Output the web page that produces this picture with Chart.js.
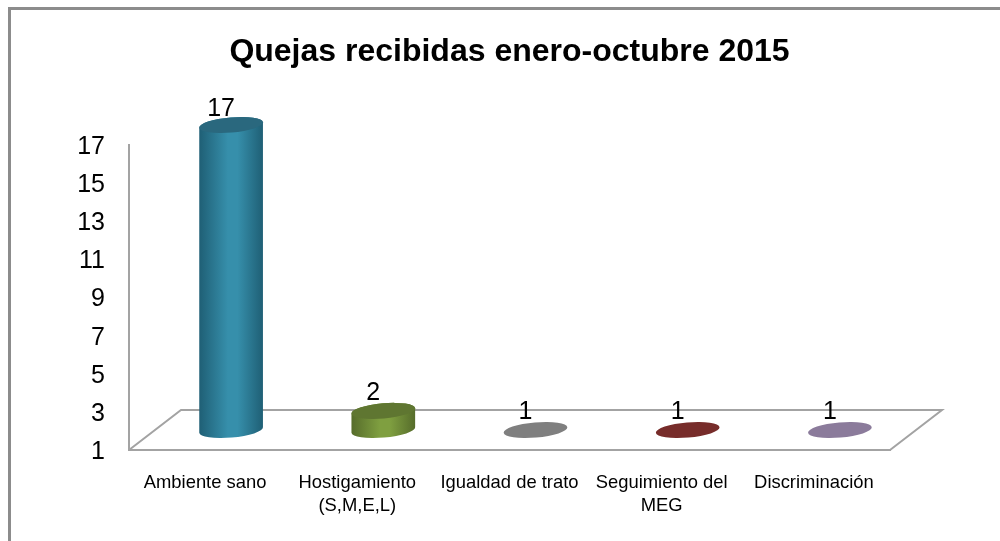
<!DOCTYPE html>
<html>
<head>
<meta charset="utf-8">
<style>
html,body{margin:0;padding:0;background:#fff;overflow:hidden}
#wrap{position:absolute;left:0;top:0;width:1000px;height:541px}
</style>
<script src="https://cdn.jsdelivr.net/npm/chart.js@4/dist/chart.umd.min.js"></script>
</head>
<body>
<div id="wrap"><canvas id="c" width="1000" height="541"></canvas></div>
<script>
const categories = ["Ambiente sano", ["Hostigamiento", "(S,M,E,L)"], "Igualdad de trato", ["Seguimiento del", "MEG"], "Discriminación"];
const values = [17, 2, 1, 1, 1];
const yTicks = [1, 3, 5, 7, 9, 11, 13, 15, 17];
const sideDark = ["#1f5f75", "#566c2b", "#6f6f6f", "#6b2422", "#77688a"];
const sideLight = ["#368fab", "#7f9f40", "#8a8a8a", "#7f2f2c", "#8f80a5"];
const topColors = ["#2a687e", "#5f7631", "#7f7f7f", "#772c2a", "#8b7b9b"];

const GRID = "#a3a3a3";
const DEPTH_X = 52, DEPTH_Y = 40;

const floor = {
  id: "floor",
  beforeDatasetsDraw(chart) {
    const {ctx, chartArea: a} = chart;
    ctx.save();
    ctx.strokeStyle = GRID;
    ctx.lineWidth = 2;
    ctx.beginPath();
    ctx.moveTo(a.left, a.bottom);
    ctx.lineTo(a.left + DEPTH_X, a.bottom - DEPTH_Y);
    ctx.lineTo(a.right + DEPTH_X, a.bottom - DEPTH_Y);
    ctx.lineTo(a.right, a.bottom);
    ctx.stroke();
    ctx.restore();
  }
};

const cylinders = {
  id: "cylinders",
  afterDatasetsDraw(chart) {
    const {ctx} = chart;
    const meta = chart.getDatasetMeta(0);
    const ox = DEPTH_X / 2, oy = -DEPTH_Y / 2;
    const rot = -5 * Math.PI / 180;
    ctx.save();
    meta.data.forEach((bar, i) => {
      const cx = bar.x + ox;
      const top = bar.y + oy;
      const base = bar.base + oy;
      const rx = bar.width / 2, ry = 7.6;
      if (base - top > 0.5) {
        const g = ctx.createLinearGradient(cx - rx, 0, cx + rx, 0);
        g.addColorStop(0, sideDark[i]);
        g.addColorStop(0.45, sideLight[i]);
        g.addColorStop(0.6, sideLight[i]);
        g.addColorStop(1, sideDark[i]);
        ctx.fillStyle = g;
        ctx.beginPath();
        ctx.ellipse(cx, base, rx, ry, rot, 0, Math.PI);
        ctx.ellipse(cx, top, rx, ry, rot, Math.PI, Math.PI * 2);
        ctx.closePath();
        ctx.fill();
      }
      ctx.fillStyle = topColors[i];
      ctx.beginPath();
      ctx.ellipse(cx, top, rx, ry, rot, 0, Math.PI * 2);
      ctx.fill();
      ctx.fillStyle = "#000";
      ctx.font = "25px 'Liberation Sans'";
      ctx.textAlign = "center";
      ctx.textBaseline = "middle";
      ctx.fillText(String(values[i]), cx - 10, top - (values[i] > 10 ? 16 : 18));
    });
    ctx.restore();
  }
};

const frame = {
  id: "frame",
  beforeDraw(chart) {
    const {ctx, width, height} = chart;
    ctx.save();
    ctx.strokeStyle = "#8c8c8c";
    ctx.lineWidth = 3;
    ctx.beginPath();
    ctx.moveTo(9.5, height);
    ctx.lineTo(9.5, 8.5);
    ctx.lineTo(width, 8.5);
    ctx.stroke();
    ctx.restore();
  }
};

new Chart(document.getElementById("c"), {
  type: "bar",
  data: {
    labels: categories,
    datasets: [{
      data: values,
      base: 1,
      backgroundColor: "rgba(0,0,0,0)",
      borderWidth: 0,
      barPercentage: 0.42,
      categoryPercentage: 1
    }]
  },
  plugins: [frame, floor, cylinders],
  options: {
    responsive: false,
    animation: false,
    layout: {padding: {left: 0, right: 110, top: 0, bottom: 0}},
    plugins: {
      legend: {display: false},
      tooltip: {enabled: false},
      title: {
        display: true,
        text: "Quejas recibidas enero-octubre 2015",
        color: "#000",
        fullSize: false,
        font: {family: "'Liberation Sans'", size: 32, weight: "bold", lineHeight: 1.2},
        padding: {top: 33, bottom: 73.6}
      }
    },
    scales: {
      x: {
        grid: {display: false, drawTicks: false},
        border: {display: true, color: GRID, width: 2},
        ticks: {color: "#000", font: {family: "'Liberation Sans'", size: 18.4, lineHeight: 1.25}, maxRotation: 0, autoSkip: false, padding: 21},
        afterFit(s) { s.height = 91; }
      },
      y: {
        min: 1,
        max: 17,
        afterBuildTicks(s) { s.ticks = yTicks.map(v => ({value: v})); },
        grid: {display: false, drawTicks: false},
        border: {display: true, color: GRID, width: 2},
        ticks: {color: "#000", font: {family: "'Liberation Sans'", size: 25}, padding: 24, labelOffset: 2},
        afterFit(s) { s.width = 129; }
      }
    }
  }
});
</script>
</body>
</html>
